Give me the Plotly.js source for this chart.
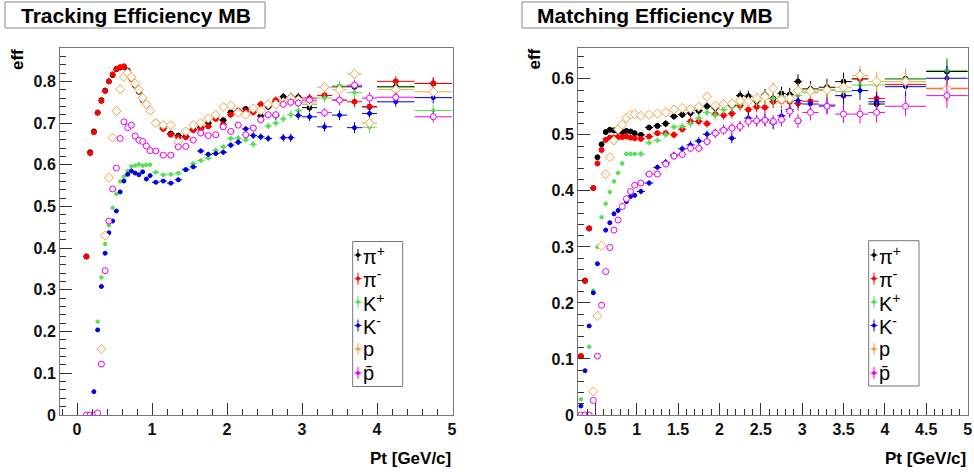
<!DOCTYPE html>
<html><head><meta charset="utf-8">
<script src="https://cdn.plot.ly/plotly-3.0.1.min.js"></script>
<style>html,body{margin:0;padding:0;background:#fff}#chart{width:974px;height:474px}</style>
</head><body><div id="chart"></div>
<script>
// ---- bin centres (GeV/c) and half widths ----
const pt = [0.125,0.175,0.225,0.275,0.325,0.375,0.425,0.475,0.525,0.575,0.625,0.675,0.725,0.775,0.825,0.875,0.925,0.975,
  1.05,1.15,1.25,1.35,1.45,1.55,1.65,1.75,1.85,1.95,2.05,2.15,2.25,2.35,2.45,2.55,2.65,2.75,2.85,2.95,
  3.1,3.3,3.5,3.7,3.9,4.25,4.75];
const ptHalfWidth = [0.025,0.025,0.025,0.025,0.025,0.025,0.025,0.025,0.025,0.025,0.025,0.025,0.025,0.025,0.025,0.025,0.025,0.025,
  0.05,0.05,0.05,0.05,0.05,0.05,0.05,0.05,0.05,0.05,0.05,0.05,0.05,0.05,0.05,0.05,0.05,0.05,0.05,0.05,
  0.1,0.1,0.1,0.1,0.1,0.25,0.25];

const speciesLabels = ['π<sup>+</sup>','π<sup>-</sup>','K<sup>+</sup>','K<sup>-</sup>','p','p\u0304'];
const speciesColors = ['#000000','#ff0000','#55e055','#0000e0','#f2a64a','#ee00ee'];

// ---- Tracking efficiency (left panel) ----
const trkPiPlus = [0.38,0.63,0.68,0.725,0.755,0.778,0.80,0.815,0.829,0.833,0.835,0.826,0.81,0.79,0.775,0.757,0.745,0.73,
  0.702,0.688,0.675,0.67,0.668,0.685,0.69,0.70,0.719,0.707,0.726,0.726,0.734,0.732,0.717,0.739,0.751,0.763,0.763,0.762,
  0.737,0.766,0.787,0.787,0.739,0.787,0.795];
const trkPiMinus = [0.38,0.628,0.678,0.725,0.753,0.777,0.80,0.817,0.83,0.834,0.836,0.824,0.805,0.79,0.778,0.755,0.744,0.728,
  0.70,0.686,0.672,0.666,0.666,0.683,0.686,0.692,0.71,0.697,0.72,0.73,0.728,0.726,0.745,0.745,0.755,0.75,0.757,0.755,
  0.76,0.766,0.755,0.751,0.739,0.80,0.795];
const trkKPlus = [null,null,null,0.224,0.33,0.41,0.455,0.497,0.53,0.56,0.572,0.585,0.596,0.598,0.601,0.598,0.60,0.60,
  0.582,0.576,0.577,0.58,0.59,0.603,0.61,0.616,0.635,0.643,0.663,0.664,0.66,0.649,0.667,0.693,0.70,0.71,0.72,0.73,
  0.745,0.76,0.789,0.773,0.69,0.785,0.73];
const trkKMinus = [null,null,0.056,0.204,0.308,0.388,0.437,0.465,0.489,0.535,0.561,0.577,0.585,0.58,0.576,0.583,0.566,0.574,
  0.558,0.561,0.556,0.564,0.588,0.595,0.633,0.625,0.627,0.63,0.647,0.654,0.686,0.67,0.667,0.663,0.717,0.665,0.665,0.718,
  0.715,0.691,0.719,0.689,0.723,0.751,0.761];
const trkP = [null,null,null,null,0.158,0.43,0.569,0.665,0.729,0.781,0.81,0.82,0.81,0.795,0.78,0.76,0.745,0.73,
  0.70,0.695,0.695,0.655,0.68,0.695,0.70,0.711,0.72,0.739,0.742,0.725,0.72,0.735,0.73,0.745,0.745,0.75,0.76,0.755,
  0.75,0.786,0.78,0.818,0.70,0.78,0.775];
const trkPbar = [0,0,0,0.005,0.122,0.346,0.465,0.542,0.592,0.663,0.703,0.689,0.695,0.669,0.659,0.656,0.645,0.634,
  0.633,0.623,0.623,0.643,0.644,0.659,0.676,0.67,0.672,0.691,0.68,0.695,0.672,0.688,0.708,0.72,0.72,0.745,0.75,0.748,
  0.755,0.725,0.755,0.791,0.76,0.762,0.715];
const trkErr = [0.003,0.003,0.003,0.003,0.003,0.003,0.003,0.003,0.003,0.003,0.003,0.003,0.003,0.004,0.004,0.004,0.004,0.004,
  0.004,0.004,0.005,0.005,0.005,0.005,0.006,0.006,0.006,0.006,0.007,0.007,0.007,0.008,0.008,0.008,0.009,0.009,0.01,0.01,
  0.01,0.011,0.012,0.013,0.014,0.012,0.014];

// ---- Matching efficiency (right panel) ----
const mtPiPlus = [null,null,null,null,0.105,0.24,0.333,0.405,0.46,0.483,0.505,0.509,0.508,0.507,0.505,0.507,0.506,0.503,
  0.50,0.513,0.516,0.52,0.533,0.536,0.539,0.543,0.551,0.548,0.555,0.552,0.57,0.569,0.56,0.571,0.565,0.574,0.572,0.595,
  0.582,0.585,0.595,0.60,0.555,0.60,0.613];
const mtPiMinus = [null,null,null,null,0.105,0.239,0.333,0.405,0.449,0.473,0.491,0.495,0.495,0.496,0.496,0.497,0.495,0.494,
  0.493,0.497,0.503,0.503,0.50,0.51,0.524,0.524,0.52,0.537,0.535,0.538,0.552,0.545,0.55,0.549,0.559,0.56,0.559,0.556,
  0.56,0.58,0.57,0.60,0.565,0.59,0.583];
const mtKPlus = [null,null,null,null,0.028,null,0.122,0.222,0.30,0.353,0.377,0.398,0.417,0.432,0.449,0.466,0.466,0.466,
  0.466,0.486,0.49,0.50,0.514,0.515,0.52,0.53,0.54,0.535,0.545,0.55,0.555,0.56,0.56,0.565,0.565,0.568,0.56,0.57,
  0.575,0.58,0.577,0.589,0.589,0.60,0.615];
const mtKMinus = [null,null,null,null,0.016,0.079,0.159,0.218,0.27,0.302,0.33,0.343,0.359,0.365,0.373,0.381,0.39,0.392,
  0.399,0.414,0.442,0.451,0.464,0.475,0.482,0.489,0.501,0.503,0.51,0.494,0.515,0.53,0.525,0.527,0.521,0.534,0.545,0.561,
  0.555,0.553,0.57,0.579,0.559,0.586,0.601];
const mtP = [null,null,null,null,null,null,null,0.042,0.177,0.302,0.43,0.46,0.49,0.51,0.518,0.53,0.536,0.537,
  0.534,0.536,0.538,0.54,0.545,0.548,0.546,0.55,0.568,0.552,0.555,0.556,0.561,0.56,0.565,0.568,0.583,0.563,0.565,0.579,
  0.578,0.58,0.585,0.606,0.595,0.595,0.582];
const mtPbar = [null,null,null,null,0,0,0,0.026,0.105,0.196,0.256,0.299,0.33,0.348,0.372,0.386,0.399,0.41,
  0.414,0.43,0.43,0.448,0.462,0.465,0.476,0.476,0.488,0.503,0.508,0.512,0.515,0.524,0.525,0.526,0.524,0.527,0.542,0.525,
  0.54,0.551,0.537,0.537,0.54,0.551,0.57];
const mtErr = [0.003,0.003,0.003,0.003,0.003,0.003,0.003,0.003,0.004,0.004,0.004,0.004,0.004,0.004,0.004,0.004,0.004,0.004,
  0.005,0.005,0.005,0.006,0.006,0.006,0.007,0.007,0.007,0.008,0.008,0.009,0.009,0.01,0.01,0.011,0.011,0.012,0.012,0.013,
  0.014,0.015,0.016,0.017,0.018,0.018,0.022];

// ---- styling ----
// open markers are filled white so the error bars do not run through them (as ROOT draws them)
const markerStyles = [
  {symbol:'circle', size:5, fill:null},
  {symbol:'circle', size:5, fill:null},
  {symbol:'circle', size:3.5, fill:null},
  {symbol:'circle', size:4, fill:null},
  {symbol:'diamond', size:7, fill:'#fff'},
  {symbol:'circle', size:6, fill:'#fff'}
];
const W = 974, H = 474;
const px = v => v / W;
const py = v => 1 - v / H;
const FONT = 'Liberation Sans, Arial, Helvetica, sans-serif';

function panelTraces(seriesList, err, xa, ya) {
  return seriesList.map((ys, i) => ({
    type: 'scatter', mode: 'markers', x: pt, y: ys, xaxis: xa, yaxis: ya,
    showlegend: false, hoverinfo: 'skip',
    marker: {symbol: markerStyles[i].symbol, size: markerStyles[i].size,
             color: markerStyles[i].fill || speciesColors[i],
             line: {color: speciesColors[i], width: 1}},
    error_x: {type: 'data', array: ptHalfWidth, visible: true, color: speciesColors[i], thickness: 1, width: 0},
    error_y: {type: 'data', array: err, visible: true, color: speciesColors[i], thickness: 1, width: 0}
  }));
}

const traces = [
  ...panelTraces([trkPiPlus, trkPiMinus, trkKPlus, trkKMinus, trkP, trkPbar], trkErr, 'x', 'y'),
  ...panelTraces([mtPiPlus, mtPiMinus, mtKPlus, mtKMinus, mtP, mtPbar], mtErr, 'x2', 'y2')
];

const tickFont = {family: FONT, size: 16, weight: 'bold', color: '#111'};
function axisBase(extra) {
  return Object.assign({
    ticks: 'inside', ticklen: 12, tickwidth: 1, tickcolor: '#333',
    showline: true, mirror: true, linecolor: '#777', linewidth: 1,
    zeroline: false, showgrid: false, tickfont: tickFont, fixedrange: true,
    ticklabeloverflow: 'allow'
  }, extra);
}
const yDomain = [(H - 415) / H, (H - 48) / H];

const shapes = [];
const annotations = [];

function titleBox(x0, x1, text, cx) {
  shapes.push({type: 'rect', xref: 'paper', yref: 'paper', x0: px(x0), x1: px(x1), y0: py(28), y1: py(2),
               line: {color: '#888', width: 1}, fillcolor: 'rgba(0,0,0,0)'});
  annotations.push({xref: 'paper', yref: 'paper', x: px(cx), y: py(15.5), text: text, showarrow: false,
                    xanchor: 'center', yanchor: 'middle', font: {family: FONT, size: 21, weight: 'bold', color: '#000'}});
}
titleBox(5, 265, 'Tracking Efficiency MB', 135.5);
titleBox(522, 788, 'Matching Efficiency MB', 654.5);

function axisText(x, y, text, opts) {
  annotations.push(Object.assign({xref: 'paper', yref: 'paper', x: px(x), y: py(y), text: text, showarrow: false,
    font: {family: FONT, size: 17, weight: 'bold', color: '#000'}}, opts));
}
axisText(17.5, 59.5, 'eff', {textangle: -90, xanchor: 'center', yanchor: 'middle'});
axisText(533.5, 59, 'eff', {textangle: -90, xanchor: 'center', yanchor: 'middle'});
axisText(453, 458, 'Pt [GeV/c]', {xanchor: 'right', yanchor: 'middle'});
axisText(968, 458, 'Pt [GeV/c]', {xanchor: 'right', yanchor: 'middle'});

const legendRows = [255, 278.6, 302, 325.5, 349, 373];
function legendBox(x0, x1, y0, y1, crossX, textX) {
  shapes.push({type: 'rect', xref: 'paper', yref: 'paper', x0: px(x0), x1: px(x1), y0: py(y1), y1: py(y0),
               line: {color: '#777', width: 1}, fillcolor: '#fff'});
  legendRows.forEach((ry, i) => {
    const c = speciesColors[i];
    shapes.push({type: 'line', xref: 'paper', yref: 'paper', x0: px(crossX), x1: px(crossX), y0: py(ry - 6), y1: py(ry + 6),
                 line: {color: c, width: 1}});
    shapes.push({type: 'line', xref: 'paper', yref: 'paper', x0: px(crossX - 3.5), x1: px(crossX + 3.5), y0: py(ry), y1: py(ry),
                 line: {color: c, width: 1}});
    shapes.push({type: 'circle', xref: 'paper', yref: 'paper', x0: px(crossX - 1.8), x1: px(crossX + 1.8), y0: py(ry + 1.8), y1: py(ry - 1.8),
                 line: {color: c, width: 0.5}, fillcolor: c});
    annotations.push({xref: 'paper', yref: 'paper', x: px(textX), y: py(ry), text: speciesLabels[i], showarrow: false,
                      xanchor: 'left', yanchor: 'middle',
                      font: {family: 'Liberation Sans, DejaVu Sans, Arial, sans-serif', size: 20, color: '#000'}});
  });
}
legendBox(352.7, 402.7, 241.5, 386.5, 358, 361);
legendBox(868.7, 919, 240.7, 386, 874, 877);

const layout = {
  width: W, height: H, margin: {l: 0, r: 0, t: 0, b: 0},
  paper_bgcolor: '#fff', plot_bgcolor: '#fff', showlegend: false,
  xaxis: axisBase({domain: [px(60), px(453)], range: [-0.227, 5.013], tick0: 0, dtick: 1, anchor: 'y',
    minor: {dtick: 0.2, ticklen: 6, ticks: 'inside', tickcolor: '#333', showgrid: false}}),
  yaxis: axisBase({domain: yDomain, range: [0, 0.88], tick0: 0, dtick: 0.1, anchor: 'x',
    minor: {dtick: 0.02, ticklen: 6, ticks: 'inside', tickcolor: '#333', showgrid: false}}),
  xaxis2: axisBase({domain: [px(578), px(968)], range: [0.29, 5.005], tick0: 0.5, dtick: 0.5, anchor: 'y2',
    minor: {dtick: 0.1, ticklen: 6, ticks: 'inside', tickcolor: '#333', showgrid: false}}),
  yaxis2: axisBase({domain: yDomain, range: [0, 0.655], tick0: 0, dtick: 0.1, anchor: 'x2',
    minor: {dtick: 0.02, ticklen: 6, ticks: 'inside', tickcolor: '#333', showgrid: false}}),
  shapes: shapes, annotations: annotations
};

Plotly.newPlot('chart', traces, layout, {staticPlot: true, displayModeBar: false});
</script></body></html>
